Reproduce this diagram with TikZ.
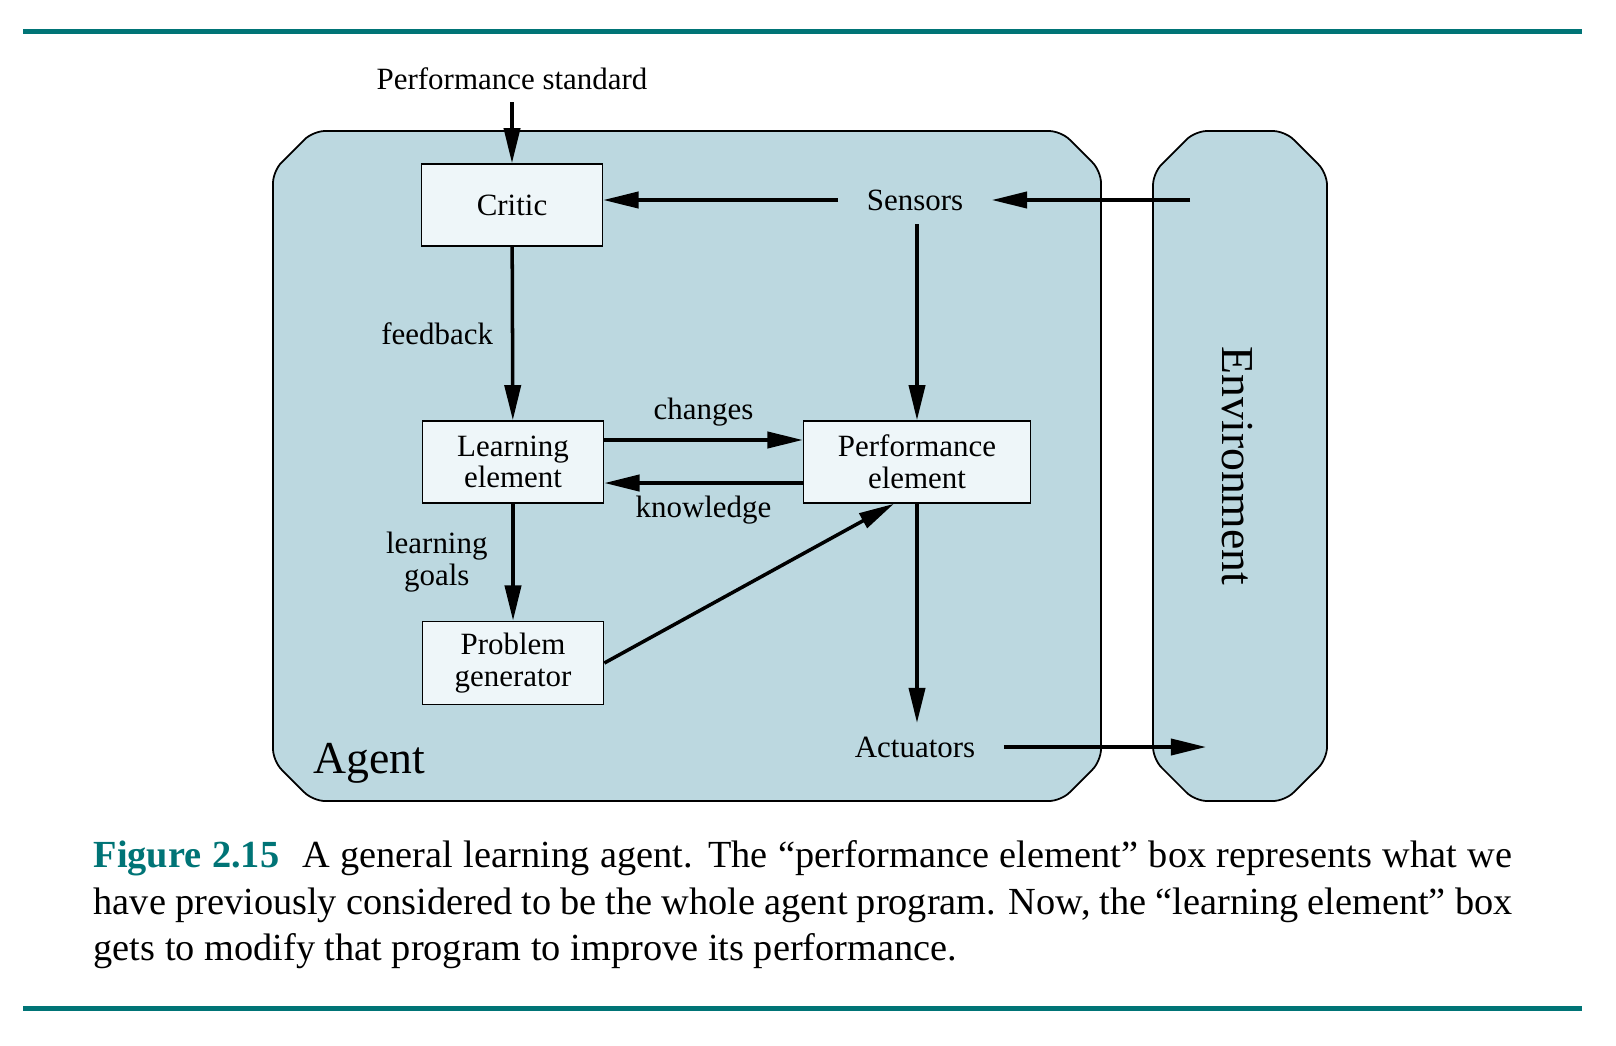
\documentclass[tikz,border=0pt]{standalone}
\usepackage{fontspec}
\setmainfont{Liberation Serif}
\usetikzlibrary{arrows.meta}
\usetikzlibrary{positioning}
\definecolor{agentblue}{RGB}{188,216,224}
\definecolor{boxfill}{RGB}{238,246,249}
\definecolor{figteal}{RGB}{0,116,118}
\newcommand\labelfont{\fontsize{8.8}{9}\selectfont}
\tikzset{
>={Triangle[length=10pt,width=4.6pt]}, % long narrow heads
conn/.style={->,line width=1pt}, % all connectors
my box/.style={draw,line width=0.45pt,fill=boxfill,align=center,
  minimum width=1.81cm,minimum height=0.82cm,font=\labelfont},
my label/.style={font=\labelfont,align=center},
my port/.style={my label,inner xsep=2.8mm,inner ysep=1.3mm},
my region/.style={draw,line width=0.5pt,fill=agentblue,rounded corners=1.2mm},
my big/.style={font=\fontsize{13}{15}\selectfont},
my rule/.style={draw=figteal,line width=0.05cm},
}

\begin{document}
\begin{tikzpicture}[x=0.01cm,y=-0.01cm]
\useasboundingbox (0,0) rectangle (1616,1045);
\draw[my rule] (23,31) -- (1582,31);
\draw[my rule] (23,1008) -- (1582,1008);
% agent and environment
\draw[my region] (273,171) -- (313,131) -- (1061,131) -- (1101,171) -- (1101,761)
  -- (1061,801) -- (313,801) -- (273,761) -- cycle;
\draw[my region] (1153,173) -- (1195,131) -- (1285,131) -- (1327,173) -- (1327,759)
  -- (1285,801) -- (1195,801) -- (1153,759) -- cycle;
\node[my big] (agent) at (369,763) {Agent};
\node[my big,rotate=-90] (env) at (1237,466) {Environment};
\coordinate (envin) at (1190,200);
\coordinate (envout) at (1206,747);
% the boxes
\node[my label] (std) at (512,79) {Performance standard};
\node[my box] (crit) at (512,205) {Critic};
\node[my port] (sens) at (915,200) {Sensors};
\node[my box] (learn) at (513,462) {Learning\\element};
\node[my box,minimum width=2.27cm] (perf) at (917,462) {Performance\\element};
\node[my box] (prob) at (513,663) {Problem\\generator};
\node[my port] (act) at (915,747) {Actuators};
% connectors
\draw[conn] (std) -- (crit);
\draw[conn] (envin) -- (sens);
\draw[conn] (sens.west) -- (sens.west -| crit.east);
\draw[conn] (sens.south -| perf.north) -- (perf.north);
\draw[conn] (crit) -- node[my label,left=0.6mm]{feedback} (learn);
\draw[conn] ([yshift=2.2mm]learn.east) -- node[my label,above]{changes} ([yshift=2.2mm]perf.west);
\draw[conn] ([yshift=-2.1mm]perf.west) -- node[my label,below]{knowledge} ([yshift=-2.1mm]learn.east);
\draw[conn] (learn) -- node[my label,left=1.2mm]{learning\\goals} (prob);
\draw[conn] (prob.east) -- (perf.241);
\draw[conn] (perf.south) -- (perf.south |- act.north);
\draw[conn] (act) -- (envout);
% caption
\node[anchor=north west,inner sep=0pt,text width=14.18cm,align=justify,
  font=\fontsize{10.9}{13.2}\selectfont] (cap) at (93,840)
  {{\color{figteal}\bfseries Figure 2.15}\hspace{0.6em}A general learning agent. The
  “performance element” box represents what we\linebreak have previously considered
  to be the whole agent program. Now, the “learning element” box\linebreak gets to
  modify that program to improve its performance.};
\end{tikzpicture}
\end{document}
